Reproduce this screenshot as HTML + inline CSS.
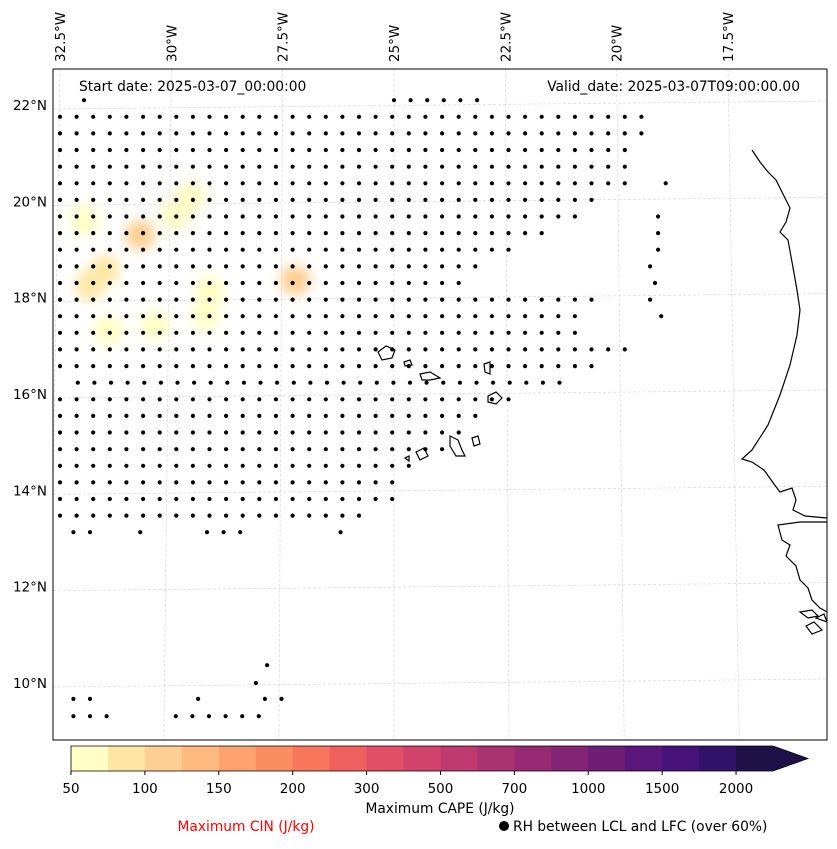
<!DOCTYPE html>
<html><head><meta charset="utf-8">
<style>
body{margin:0;background:#fff;font-family:"DejaVu Sans","Liberation Sans",sans-serif;}
svg text{font-family:"DejaVu Sans","Liberation Sans",sans-serif;}
</style></head>
<body>
<svg id="chart" width="837" height="845" viewBox="0 0 837 845" xmlns="http://www.w3.org/2000/svg">
<defs>
<filter id="blur" x="-50%" y="-50%" width="200%" height="200%"><feGaussianBlur stdDeviation="6"/></filter>
<clipPath id="mapclip"><rect x="53" y="69" width="774" height="671"/></clipPath>
</defs>
<rect x="0" y="0" width="837" height="845" fill="#fff"/>
<g id="grid" clip-path="url(#mapclip)"></g>
<g id="blobs" clip-path="url(#mapclip)" filter="url(#blur)"></g>
<g id="dots" clip-path="url(#mapclip)"></g>
<g id="coast" clip-path="url(#mapclip)" fill="none" stroke="#000" stroke-width="1.2">
<path d="M752,150 L760,162 L768,172 L776,180 L782,192 L790,208 L786,222 L780,232 L788,240 L792,262 L797,290 L800,310 L797,335 L790,365 L780,395 L768,425 L752,450 L742,459 L752,462 L764,470 L774,484 L780,492 L792,488 L796,500 L793,510 L805,516 L827,518"/>
<path d="M827,522 L800,522 L778,525 L782,540 L790,545 L786,556 L796,566 L800,580 L808,588 L812,600 L820,608 L827,612"/>
<path d="M800,612 L812,610 L818,616 L808,618 Z M806,626 L814,622 L822,630 L812,634 Z M816,618 L824,614 L827,622 Z"/>
<path d="M378,352 L386,346 L395,350 L392,358 L382,360 Z"/>
<path d="M404,362 L410,360 L412,365 L405,366 Z"/>
<path d="M420,374 L430,372 L440,378 L430,380 L422,380 Z"/>
<path d="M484,364 L490,362 L490,374 L485,372 Z"/>
<path d="M488,396 L496,392 L502,398 L496,404 L488,402 Z"/>
<path d="M472,438 L478,436 L480,444 L474,446 Z"/>
<path d="M450,436 L458,440 L462,450 L465,456 L456,456 L450,446 Z"/>
<path d="M416,452 L424,448 L428,456 L420,460 Z"/>
<path d="M405,458 L409,456 L409,461 Z"/>
</g>
<rect x="53" y="69" width="774" height="671" fill="none" stroke="#000" stroke-width="1"/>
<g id="lonlabels" font-size="13.5"></g>
<g id="latlabels" font-size="13.5"></g>
<text x="79" y="91" font-size="13.8">Start date: 2025-03-07_00:00:00</text>
<text x="800" y="91" font-size="13.8" text-anchor="end">Valid_date: 2025-03-07T09:00:00.00</text>
<g id="colorbar"></g>
<text x="440" y="813" font-size="13.8" text-anchor="middle">Maximum CAPE (J/kg)</text>
<text x="246" y="831" font-size="13.8" fill="#ff0000" text-anchor="middle">Maximum CIN (J/kg)</text>
<circle cx="504" cy="826" r="5" fill="#000"/>
<text x="513" y="831" font-size="13.8">RH between LCL and LFC (over 60%)</text>
</svg>
<script>
const NS="http://www.w3.org/2000/svg";
const lonTicks=[-32.5,-30,-27.5,-25,-22.5,-20,-17.5];
const lonTickLabels=["32.5°W","30°W","27.5°W","25°W","22.5°W","20°W","17.5°W"];
const latTicks=[22,20,18,16,14,12,10];
const latTickLabels=["22°N","20°N","18°N","16°N","14°N","12°N","10°N"];
const cbLevels=[50,75,100,125,150,175,200,250,300,400,500,600,700,850,1000,1250,1500,1750,2000];
const cbTickLabels=["50","100","150","200","300","500","700","1000","1500","2000"];
const cbColors=["#ffffc5","#fee7a4","#fecf92","#feb97f","#fea36e","#fc8d60","#f8765c","#ef605f","#e24e65","#d2436b","#be3a6f","#aa3272","#962b74","#832475","#6f1e76","#5a167a","#46137a","#32136a","#1d1147"];
const dotRowLat=[22.1,21.755,21.41,21.065,20.72,20.375,20.03,19.685,19.34,18.995,18.65,18.305,17.96,17.615,17.27,16.925,16.58,16.235,15.89,15.545,15.2,14.855,14.51,14.165,13.82,13.475,13.13,10.37,10.0,9.67,9.31];
const dotRowSegs=[[[-31.96,-31.6],[-25.0,-23.0]],[[-32.5,-19.45]],[[-32.5,-19.45]],[[-32.5,-19.74]],[[-32.5,-19.74]],[[-32.5,-19.7],[-18.9,-18.69]],[[-32.5,-20.37]],[[-32.5,-20.82],[-19.07,-18.8]],[[-32.5,-21.5],[-19.07,-19.07]],[[-32.5,-22.17],[-19.07,-19.07]],[[-32.5,-22.84],[-19.25,-18.91]],[[-32.5,-23.29],[-19.14,-19.14]],[[-32.5,-20.26],[-19.25,-19.25]],[[-32.5,-20.6],[-19.0,-19.0]],[[-32.5,-20.6]],[[-32.5,-19.7]],[[-32.5,-20.37]],[[-32.1,-20.93]],[[-32.5,-22.17]],[[-32.5,-23.07]],[[-32.5,-23.29]],[[-32.5,-23.74]],[[-32.5,-24.42]],[[-32.5,-24.86]],[[-32.5,-24.75]],[[-32.5,-25.54]],[[-32.2,-31.8],[-30.7,-30.7],[-29.2,-28.4],[-26.2,-25.9]],[[-27.85,-27.5]],[[-28.1,-28.1]],[[-32.2,-31.6],[-29.4,-29.1],[-27.9,-27.5]],[[-32.2,-31.3],[-29.9,-27.7]]];
const blobLon=[-29.58,-29.92,-30.70,-31.94,-31.49,-31.83,-29.13,-29.24,-27.22,-30.37,-31.42];
const blobLat=[20.09,19.72,19.30,19.61,18.57,18.26,18.15,17.64,18.36,17.43,17.33];
const blobVal=[70,65,105,65,95,75,65,60,115,60,55];

function xLon(lon){return 60+(lon+32.5)*(668/15);}
function yLat(lat){return 105+(22-lat)*(578/12);}
function colorFor(v){let i=0;while(i<cbLevels.length-1&&v>=cbLevels[i+1])i++;return cbColors[i];}

const grid=document.getElementById('grid');
lonTicks.forEach((lon,i)=>{
  const l=document.createElementNS(NS,'line');
  
  
  l.setAttribute('x1',xLon(lon));l.setAttribute('x2',xLon(lon)+ (lon+25)*1.5);
  l.setAttribute('y1',69);l.setAttribute('y2',740);
  l.setAttribute('stroke','#d0d0d0');l.setAttribute('stroke-width','0.6');l.setAttribute('stroke-dasharray','3,2');
  grid.appendChild(l);
  const t=document.createElementNS(NS,'text');
  
  
  const x=xLon(lon)+5;
  t.setAttribute('transform',`translate(${x},62) rotate(-90)`);
  t.textContent=lonTickLabels[i];
  document.getElementById('lonlabels').appendChild(t);
});
latTicks.forEach((lat,i)=>{
  const l=document.createElementNS(NS,'line');
  
  
  l.setAttribute('x1',53);l.setAttribute('x2',827);
  l.setAttribute('y1',yLat(lat)+4);l.setAttribute('y2',yLat(lat)-4);
  l.setAttribute('stroke','#d0d0d0');l.setAttribute('stroke-width','0.6');l.setAttribute('stroke-dasharray','3,2');
  grid.appendChild(l);
  const t=document.createElementNS(NS,'text');
  
  
  t.setAttribute('x',47);t.setAttribute('y',yLat(lat)+5);t.setAttribute('text-anchor','end');
  t.textContent=latTickLabels[i];
  document.getElementById('latlabels').appendChild(t);
});
const blobs=document.getElementById('blobs');
blobLon.forEach((lon,i)=>{
  const c=document.createElementNS(NS,'circle');
  
  
  c.setAttribute('cx',xLon(lon));c.setAttribute('cy',yLat(blobLat[i]));
  c.setAttribute('r',15);c.setAttribute('fill',colorFor(blobVal[i]));
  blobs.appendChild(c);
});
const dots=document.getElementById('dots');
const step=0.373;
dotRowLat.forEach((lat,r)=>{
  dotRowSegs[r].forEach(seg=>{
    for(let lon=seg[0];lon<=seg[1]+0.01;lon+=step){
      const c=document.createElementNS(NS,'circle');
      
      
      c.setAttribute('cx',xLon(lon).toFixed(1));c.setAttribute('cy',yLat(lat).toFixed(1));
      c.setAttribute('r',2.1);c.setAttribute('fill','#000');
      dots.appendChild(c);
    }
  });
});
const cb=document.getElementById('colorbar');
const cbX0=71,cbW=702/cbColors.length,cbY=746,cbH=25;
cbColors.forEach((col,i)=>{
  const r=document.createElementNS(NS,'rect');
  
  
  r.setAttribute('x',cbX0+i*cbW);r.setAttribute('y',cbY);r.setAttribute('width',cbW+0.5);r.setAttribute('height',cbH);r.setAttribute('fill',col);
  cb.appendChild(r);
});
const tri=document.createElementNS(NS,'path');


tri.setAttribute('d',`M773,${cbY} L808,${cbY+cbH/2} L773,${cbY+cbH} Z`);
tri.setAttribute('fill',cbColors[cbColors.length-1]);
cb.appendChild(tri);
const outline=document.createElementNS(NS,'path');


outline.setAttribute('d',`M71,${cbY} L773,${cbY} L808,${cbY+cbH/2} L773,${cbY+cbH} L71,${cbY+cbH} Z`);
outline.setAttribute('fill','none');outline.setAttribute('stroke','#000');outline.setAttribute('stroke-width','0.8');
cb.appendChild(outline);
cbTickLabels.forEach((lab,i)=>{
  const x=cbX0+i*2*cbW;
  const l=document.createElementNS(NS,'line');
  
  
  l.setAttribute('x1',x);l.setAttribute('x2',x);l.setAttribute('y1',cbY+cbH);l.setAttribute('y2',cbY+cbH+4);l.setAttribute('stroke','#000');
  cb.appendChild(l);
  const t=document.createElementNS(NS,'text');
  
  
  t.setAttribute('x',x);t.setAttribute('y',793);t.setAttribute('text-anchor','middle');t.setAttribute('font-size','13.5');
  t.textContent=lab;
  cb.appendChild(t);
});
</script>
</body></html>
